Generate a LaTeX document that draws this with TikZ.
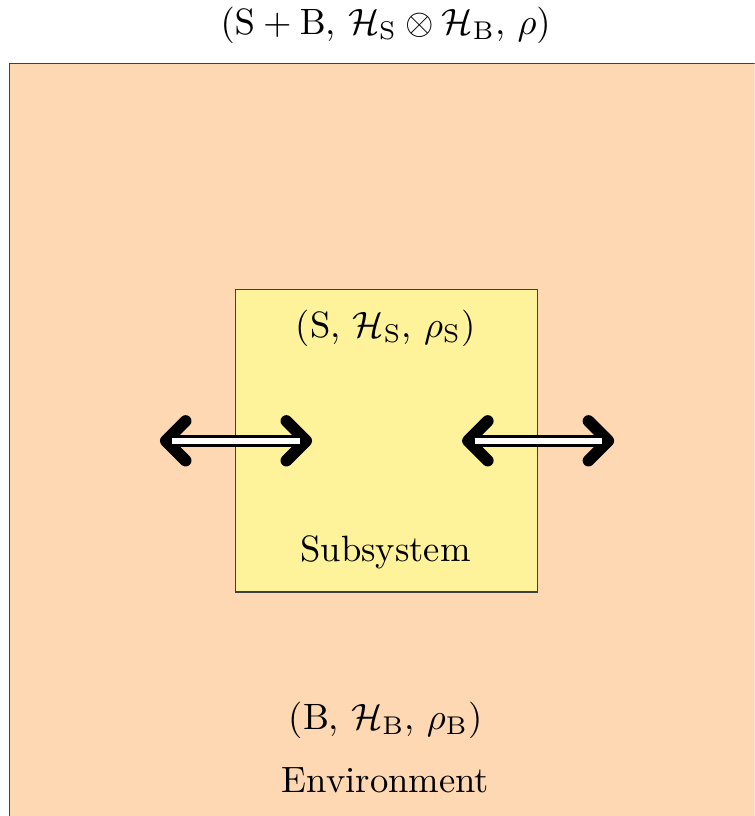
\documentclass[tikz,border=0pt]{standalone}
\usepackage{amsmath,amssymb}
\usepackage{xcolor}
\usepackage{tikz}
\usetikzlibrary{arrows.meta, positioning}

\definecolor{envcol}{RGB}{254,216,179}
\definecolor{subcol}{RGB}{254,243,155}

\begin{document}
\begin{tikzpicture}[
    box/.style={draw=black!75, line width=0.4pt},
    barb/.style={line width=3.2pt, {Straight Barb[round, length=1.9mm, width=3.8mm]}-{Straight Barb[round, length=1.9mm, width=3.8mm]}},
    core/.style={white, line width=1.5pt, shorten <=1.2mm, shorten >=1.2mm}
]
\useasboundingbox (0,0) rectangle (7.24,7.83);
\clip (0,0) rectangle (7.24,7.83);
\node[box, fill=envcol, minimum width=7.6cm, minimum height=7.8cm, anchor=north west, inner sep=0pt] (env) at (0.086,7.23) {};
\node[box, fill=subcol, minimum size=2.9cm, inner sep=0pt] (sub) at (3.71,3.60) {};
\node (top) at (3.70,7.59) {$(\mathrm{S}+\mathrm{B}$, $\mathcal{H}_{\mathrm{S}}\otimes\mathcal{H}_{\mathrm{B}}$, $\rho)$};
\node (subtuple) at (3.70,4.68) {(S, $\mathcal{H}_{\mathrm{S}}$, $\rho_{\mathrm{S}}$)};
\node (subname) at (3.70,2.53) {Subsystem};
\node (envtuple) at (3.70,0.92) {(B, $\mathcal{H}_{\mathrm{B}}$, $\rho_{\mathrm{B}}$)};
\node (envname) at (3.70,0.34) {Environment};
\coordinate (la) at (1.535,3.60);
\coordinate (lb) at (2.994,3.60);
\coordinate (ra) at (4.434,3.60);
\coordinate (rb) at (5.893,3.60);
\draw[barb] (la) -- (lb);
\draw[core] (la) -- (lb);
\draw[barb] (ra) -- (rb);
\draw[core] (ra) -- (rb);
\end{tikzpicture}
\end{document}
